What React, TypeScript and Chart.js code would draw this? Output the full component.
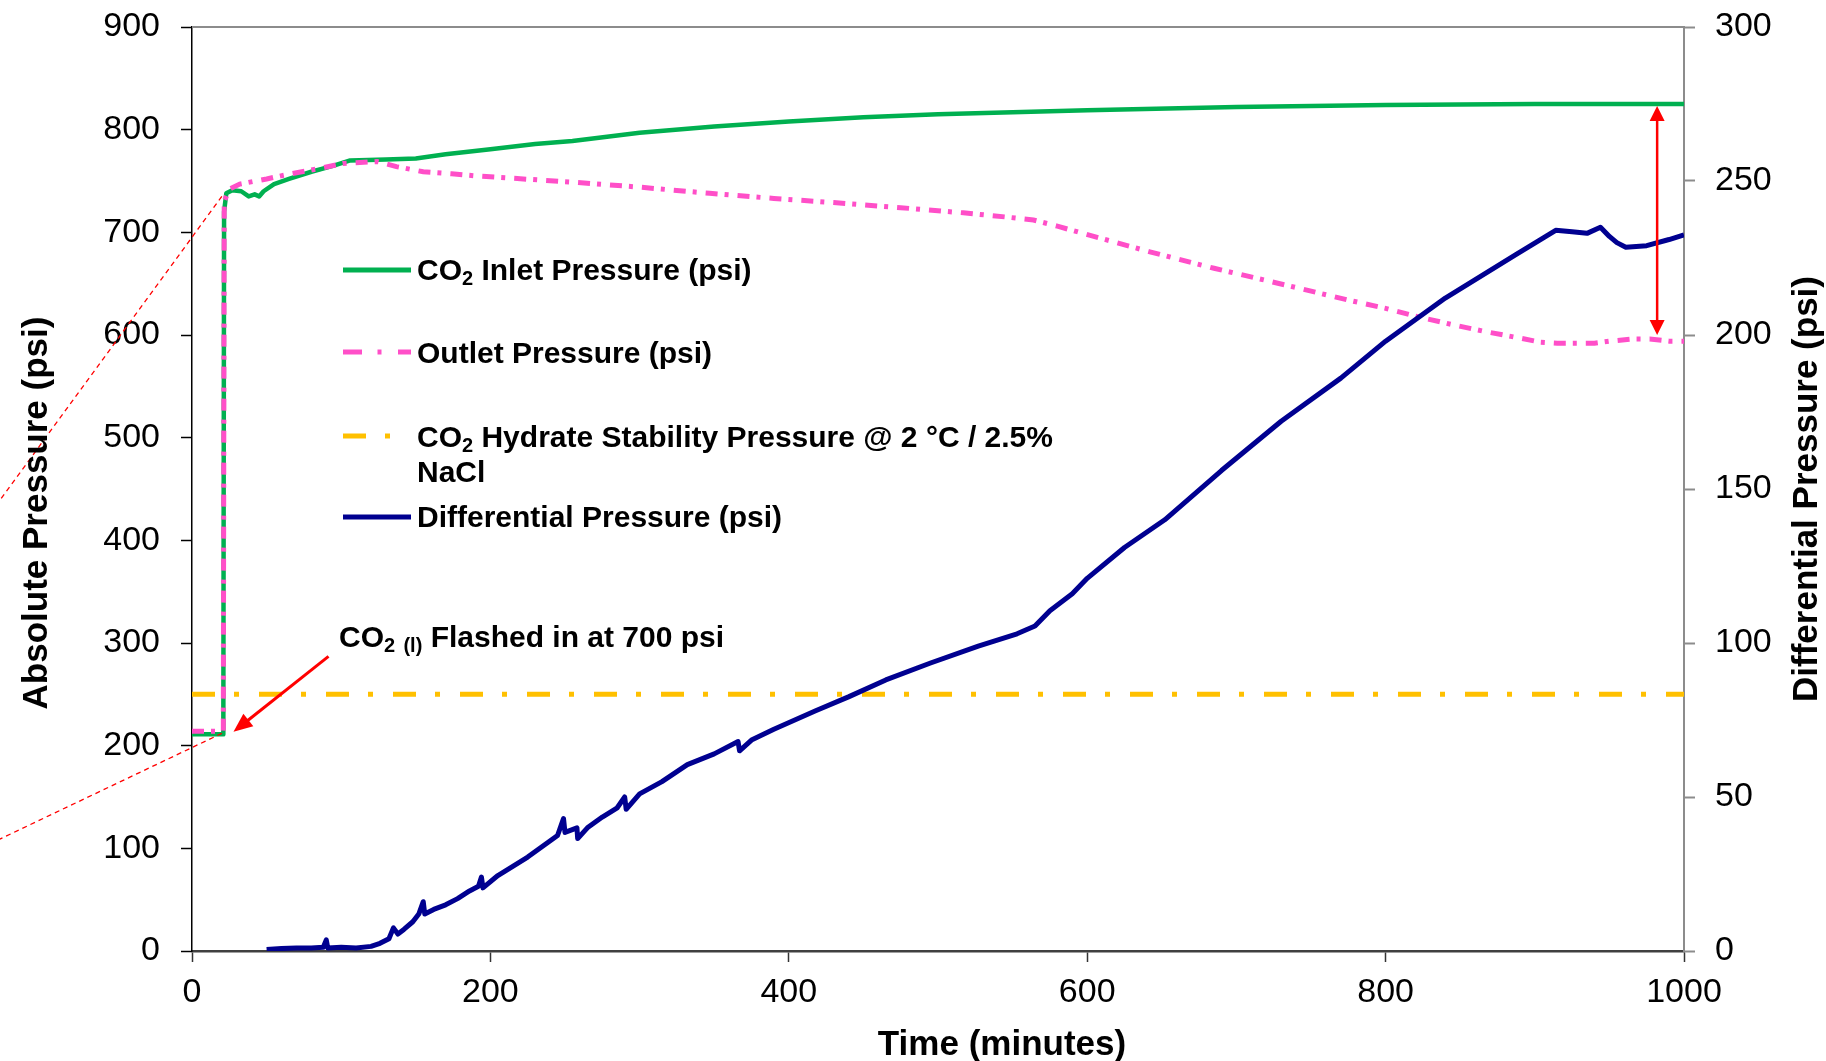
import { useEffect, useRef } from 'react';
import { Chart, registerables } from 'chart.js';
Chart.register(...registerables);

// ---------- data ----------
const inletTime = [0, 10, 21, 21.5, 23, 27, 33, 38, 42, 45, 48, 55, 65, 80, 95, 106, 130, 150, 170, 200, 230, 255, 300, 350, 400, 450, 500, 550, 600, 700, 800, 900, 1000];
const inletPsi = [211, 211, 211, 720, 738, 741, 740, 735, 737, 735, 740, 747, 752, 759, 765, 770, 771, 772, 776, 781, 786, 789, 797, 803, 808, 812, 815, 817, 819, 822, 824, 825, 825];

const outletTime = [0, 21, 21.3, 21.6, 25, 32, 50, 66, 85, 101, 124, 137, 155, 174, 190, 222, 254, 300, 347, 390, 430, 475, 517, 545, 564, 580, 602, 642, 685, 732, 775, 800, 821, 845, 868, 890, 904, 915, 940, 950, 965, 977, 990, 1000];
const outletPsi = [214, 214, 500, 730, 742, 747, 752, 757, 762, 767, 769, 764, 759, 757, 755, 752, 749, 744, 738, 733, 729, 724, 719, 715, 712, 706, 697, 681, 665, 649, 634, 626, 618, 610, 603, 597, 593, 592, 592, 594, 596, 596, 594, 594];

const hydrateTime = [0, 1000];
const hydratePsi = [250, 250];

const diffTime = [50, 60, 70, 80, 88, 90, 91, 100, 110, 120, 126, 132, 135, 138, 142, 148, 152, 155, 156, 162, 170, 178, 186, 192, 194, 195, 205, 215, 225, 235, 245, 249, 250, 258, 258.5, 265, 275, 285, 290, 291, 300, 315, 332, 350, 366, 367, 375, 390, 418, 440, 465, 495, 527, 553, 565, 575, 590, 600, 625, 652, 690, 730, 770, 800, 840, 887, 914, 925, 935, 944, 950, 955, 961, 975, 990, 1000];
const diffPsi = [0.5, 0.8, 1, 1, 1.2, 3.6, 1, 1.2, 1, 1.5, 2.5, 4, 7.5, 5.5, 7, 9.5, 12, 16, 12, 13.5, 15, 17, 19.5, 21, 24, 20.5, 24.5, 27.5, 30.5, 34, 37.5, 43, 38.5, 40, 36.5, 40, 43.5, 46.5, 50, 46, 51, 55, 60.5, 64, 68, 65, 68.5, 72, 78, 82.5, 88, 93.5, 99, 103, 105.5, 110.5, 116, 121, 131, 140, 156, 172, 186, 198, 212, 226, 234, 233.5, 233, 235, 232, 230, 228.5, 229, 231, 232.5];

const xTicks = [0, 200, 400, 600, 800, 1000];
const leftTicks = [0, 100, 200, 300, 400, 500, 600, 700, 800, 900];
const rightTicks = [0, 50, 100, 150, 200, 250, 300];

// annotations (data units: time, left-axis psi)
const gapArrowTime = 982;
const gapArrowFrom = 823;
const gapArrowTo = 600;
const flashArrowStart = [91.5, 287];
const flashArrowTip = [27.8, 213.5];
const calloutTop = [[20, 735], [-128.8, 439]];
const calloutBottom = [[20, 212], [-128.8, 109]];

const labelInlet = ' Inlet Pressure (psi)';
const labelOutlet = 'Outlet Pressure (psi)';
const labelHydrate1 = ' Hydrate Stability Pressure @ 2 °C / 2.5%';
const labelHydrate2 = 'NaCl';
const labelDiff = 'Differential Pressure (psi)';
const flashText = ' Flashed in at 700 psi';
const xTitle = 'Time (minutes)';
const leftTitle = 'Absolute Pressure (psi)';
const rightTitle = 'Differential Pressure (psi)';

const GREEN = '#00B050';
const PINK = '#FF4FC8';
const YELLOW = '#FFC000';
const BLUE = '#000090';
const FONT = '"Liberation Sans", Arial, sans-serif';

const pts = (xs: number[], ys: number[]) => xs.map((x, i) => ({ x, y: ys[i] }));

type Part = { t: string; sub?: boolean };
function drawRich(ctx: CanvasRenderingContext2D, x: number, y: number, parts: Part[], size: number) {
  let cx = x;
  ctx.textAlign = 'left';
  ctx.textBaseline = 'alphabetic';
  ctx.fillStyle = '#000';
  for (const p of parts) {
    const s = p.sub ? Math.round(size * 0.67) : size;
    ctx.font = `bold ${s}px ${FONT}`;
    ctx.fillText(p.t, cx, y + (p.sub ? 5 : 0));
    cx += ctx.measureText(p.t).width;
  }
}

const overlayPlugin = {
  id: 'overlay',
  afterDraw(chart: any) {
    const ctx: CanvasRenderingContext2D = chart.ctx;
    const xs = chart.scales.x;
    const yl = chart.scales.y;
    const area = chart.chartArea;
    const px = (t: number) => xs.getPixelForValue(t);
    const py = (v: number) => yl.getPixelForValue(v);
    ctx.save();

    // top border
    ctx.strokeStyle = '#8c8c8c';
    ctx.lineWidth = 2;
    ctx.beginPath();
    ctx.moveTo(area.left, area.top);
    ctx.lineTo(area.right, area.top);
    ctx.stroke();

    // callout dashed lines
    ctx.strokeStyle = '#FF0000';
    ctx.lineWidth = 1.3;
    ctx.setLineDash([5, 4]);
    for (const seg of [calloutTop, calloutBottom]) {
      ctx.beginPath();
      ctx.moveTo(px(seg[0][0]), py(seg[0][1]));
      ctx.lineTo(px(seg[1][0]), py(seg[1][1]));
      ctx.stroke();
    }
    ctx.setLineDash([]);

    // double arrow
    const ax = px(gapArrowTime);
    const ay1 = py(gapArrowFrom);
    const ay2 = py(gapArrowTo);
    ctx.strokeStyle = '#FF0000';
    ctx.fillStyle = '#FF0000';
    ctx.lineWidth = 2.5;
    ctx.beginPath();
    ctx.moveTo(ax, ay1 + 12);
    ctx.lineTo(ax, ay2 - 12);
    ctx.stroke();
    ctx.beginPath();
    ctx.moveTo(ax, ay1);
    ctx.lineTo(ax - 7.5, ay1 + 15);
    ctx.lineTo(ax + 7.5, ay1 + 15);
    ctx.closePath();
    ctx.fill();
    ctx.beginPath();
    ctx.moveTo(ax, ay2);
    ctx.lineTo(ax - 7.5, ay2 - 15);
    ctx.lineTo(ax + 7.5, ay2 - 15);
    ctx.closePath();
    ctx.fill();

    // flash arrow
    const sx = px(flashArrowStart[0]);
    const sy = py(flashArrowStart[1]);
    const tx = px(flashArrowTip[0]);
    const ty = py(flashArrowTip[1]);
    const ang = Math.atan2(ty - sy, tx - sx);
    const hl = 19;
    const hw = 8;
    ctx.lineWidth = 3;
    ctx.beginPath();
    ctx.moveTo(sx, sy);
    ctx.lineTo(tx - Math.cos(ang) * (hl - 2), ty - Math.sin(ang) * (hl - 2));
    ctx.stroke();
    const bx = tx - Math.cos(ang) * hl;
    const by = ty - Math.sin(ang) * hl;
    ctx.beginPath();
    ctx.moveTo(tx, ty);
    ctx.lineTo(bx + Math.sin(ang) * hw, by - Math.cos(ang) * hw);
    ctx.lineTo(bx - Math.sin(ang) * hw, by + Math.cos(ang) * hw);
    ctx.closePath();
    ctx.fill();

    // flash text
    drawRich(ctx, 339, 647, [{ t: 'CO' }, { t: '2', sub: true }, { t: ' ' }, { t: '(l)', sub: true }, { t: flashText }], 30);

    // legend
    const lx0 = 343;
    const lx1 = 411;
    ctx.lineCap = 'butt';
    ctx.lineWidth = 5;
    ctx.strokeStyle = GREEN;
    ctx.beginPath(); ctx.moveTo(lx0, 270); ctx.lineTo(lx1, 270); ctx.stroke();
    ctx.strokeStyle = PINK;
    ctx.beginPath(); ctx.moveTo(343, 352); ctx.lineTo(362, 352); ctx.stroke();
    ctx.beginPath(); ctx.moveTo(377.5, 352); ctx.lineTo(381.5, 352); ctx.stroke();
    ctx.beginPath(); ctx.moveTo(398, 352); ctx.lineTo(411, 352); ctx.stroke();
    ctx.strokeStyle = YELLOW;
    ctx.beginPath(); ctx.moveTo(343, 436); ctx.lineTo(366, 436); ctx.stroke();
    ctx.beginPath(); ctx.moveTo(385, 436); ctx.lineTo(390, 436); ctx.stroke();
    ctx.strokeStyle = BLUE;
    ctx.beginPath(); ctx.moveTo(lx0, 517); ctx.lineTo(lx1, 517); ctx.stroke();

    drawRich(ctx, 417, 280, [{ t: 'CO' }, { t: '2', sub: true }, { t: labelInlet }], 30);
    drawRich(ctx, 417, 363, [{ t: labelOutlet }], 30);
    drawRich(ctx, 417, 447, [{ t: 'CO' }, { t: '2', sub: true }, { t: labelHydrate1 }], 30);
    drawRich(ctx, 417, 482, [{ t: labelHydrate2 }], 30);
    drawRich(ctx, 417, 527, [{ t: labelDiff }], 30);

    // axis titles
    ctx.fillStyle = '#000';
    ctx.font = `bold 35px ${FONT}`;
    ctx.textAlign = 'center';
    ctx.textBaseline = 'alphabetic';
    ctx.fillText(xTitle, 1002, 1055);
    ctx.save();
    ctx.translate(47, 513);
    ctx.rotate(-Math.PI / 2);
    ctx.fillText(leftTitle, 0, 0);
    ctx.restore();
    ctx.save();
    ctx.translate(1817, 489);
    ctx.rotate(-Math.PI / 2);
    ctx.fillText(rightTitle, 0, 0);
    ctx.restore();

    ctx.restore();
  },
};

export default function App() {
  const ref = useRef<HTMLCanvasElement | null>(null);
  useEffect(() => {
    document.body.style.margin = '0';
    const canvas = ref.current;
    if (!canvas) return;
    const tickFont = { family: FONT, size: 34 };
    const plain = (v: any) => String(v);
    const fitY = (w: number) => (s: any) => {
      s.width = w;
      s.paddingTop = 0;
      s.paddingBottom = 0;
    };
    const chart = new Chart(canvas, {
      type: 'line',
      data: {
        datasets: [
          { label: 'Differential Pressure (psi)', data: pts(diffTime, diffPsi), yAxisID: 'y2', borderColor: BLUE, borderWidth: 5, pointRadius: 0, order: 0, borderJoinStyle: 'round', tension: 0 },
          { label: 'CO2 Hydrate Stability Pressure', data: pts(hydrateTime, hydratePsi), yAxisID: 'y', borderColor: YELLOW, borderWidth: 5, borderDash: [23, 19, 5, 20], pointRadius: 0, order: 1 },
          { label: 'Outlet Pressure (psi)', data: pts(outletTime, outletPsi), yAxisID: 'y', borderColor: PINK, borderWidth: 5, borderDash: [12, 7, 4, 9], pointRadius: 0, order: 2 },
          { label: 'CO2 Inlet Pressure (psi)', data: pts(inletTime, inletPsi), yAxisID: 'y', borderColor: GREEN, borderWidth: 4.5, pointRadius: 0, order: 3, borderJoinStyle: 'round' },
        ],
      },
      options: {
        responsive: false,
        animation: false,
        devicePixelRatio: 1,
        layout: { padding: { top: 27, left: 0, right: 0, bottom: 0 } },
        plugins: { legend: { display: false }, tooltip: { enabled: false } },
        scales: {
          x: {
            type: 'linear',
            min: 0,
            max: 1000,
            afterFit: (s: any) => { s.height = 110; s.paddingLeft = 0; s.paddingRight = 0; },
            afterBuildTicks: (s: any) => { s.ticks = xTicks.map((v) => ({ value: v })); },
            ticks: { font: tickFont, color: '#000', padding: 10, maxRotation: 0, callback: plain },
            grid: { drawOnChartArea: false, drawTicks: true, tickLength: 11, tickColor: '#333', tickWidth: 1.5 },
            border: { color: '#404040', width: 2.5 },
          },
          y: {
            type: 'linear',
            position: 'left',
            min: 0,
            max: 900,
            afterFit: fitY(192),
            afterBuildTicks: (s: any) => { s.ticks = leftTicks.map((v) => ({ value: v })); },
            ticks: { font: tickFont, color: '#000', padding: 21, callback: plain },
            grid: { drawOnChartArea: false, drawTicks: true, tickLength: 11, tickColor: '#000', tickWidth: 1.5 },
            border: { color: '#000', width: 1.5 },
          },
          y2: {
            type: 'linear',
            position: 'right',
            min: 0,
            max: 300,
            afterFit: fitY(142),
            afterBuildTicks: (s: any) => { s.ticks = rightTicks.map((v) => ({ value: v })); },
            ticks: { font: tickFont, color: '#000', padding: 20, callback: plain },
            grid: { drawOnChartArea: false, drawTicks: true, tickLength: 11, tickColor: '#8c8c8c', tickWidth: 2 },
            border: { color: '#8c8c8c', width: 2 },
          },
        },
      },
      plugins: [overlayPlugin],
    } as any);
    return () => chart.destroy();
  }, []);
  return (
    <canvas
      ref={ref}
      width={1826}
      height={1061}
      style={{ display: 'block', position: 'absolute', left: 0, top: 0, background: '#fff' }}
    />
  );
}
